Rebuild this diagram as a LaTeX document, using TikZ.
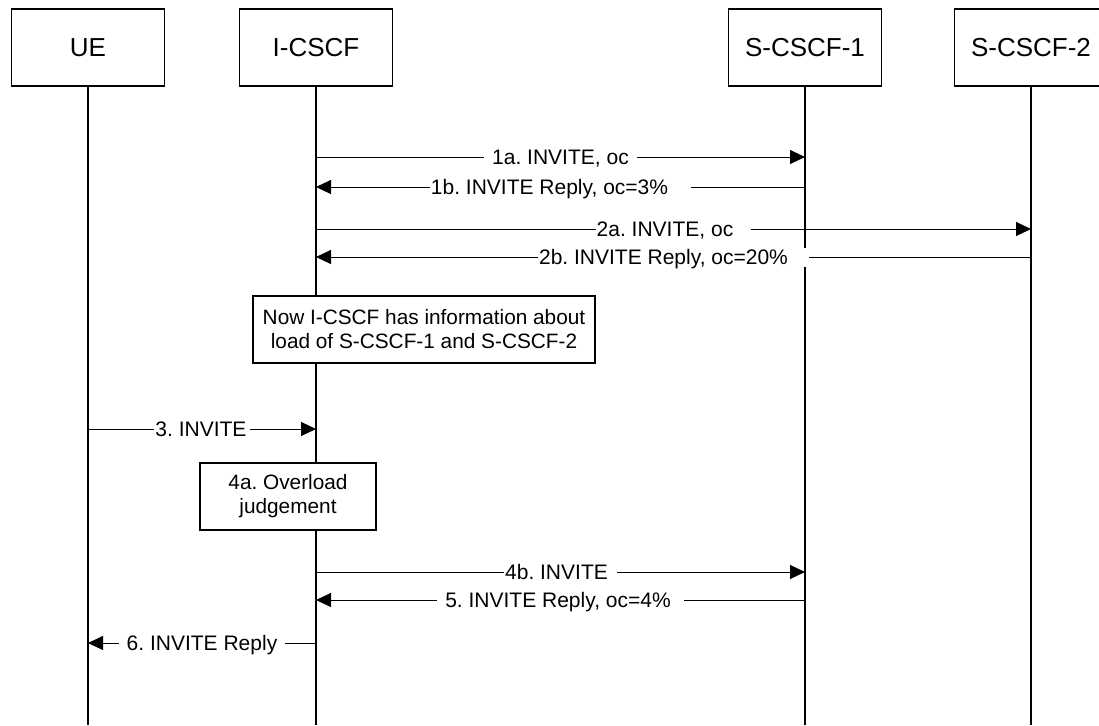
\documentclass[tikz,border=0pt]{standalone}
\usepackage{fontspec}
\setmainfont{Liberation Sans}
\usetikzlibrary{arrows.meta}

\begin{document}
\frenchspacing
\begin{tikzpicture}[
  x=0.5pt, y=-0.5pt,
  >={Triangle[length=7.5pt, width=7pt]},
  actor/.style={
    rectangle, draw, line width=0.65pt,
    minimum width=76.5pt, minimum height=38.5pt,
    font=\fontsize{13pt}{15pt}\selectfont
  },
  life/.style={line width=0.75pt},
  msg/.style={->, line width=0.5pt},
  lbl/.style={
    fill=white, inner xsep=0.5pt, inner ysep=1pt,
    text height=7.5pt, text depth=0pt,
    font=\fontsize{10.5pt}{12pt}\selectfont
  },
  lblpad/.style={lbl, inner xsep=4pt},
  note/.style={
    rectangle, draw, fill=white, line width=0.65pt, align=center,
    minimum height=33.5pt, font=\fontsize{10.4pt}{12pt}\selectfont
  }
]

% Frame
\useasboundingbox (0,0) rectangle (1099,725);
\clip (0,0) rectangle (1099,725);

% Entities
\node[actor] (ue) at (88,47.5) {UE};
\node[actor] (icscf) at (316,47.5) {I-CSCF};
\node[actor] (scscf1) at (805,47.5) {S-CSCF-1};
\node[actor] (scscf2) at (1031,47.5) {S-CSCF-2};

\coordinate (bottom) at (0,725);

% Lifelines
\foreach \n in {ue, icscf, scscf1, scscf2}
  \draw[life] (\n.south) -- (\n.south |- bottom);

% Message rows
\coordinate (r1a) at (0,157);
\coordinate (r1b) at (0,187);
\coordinate (r2a) at (0,229);
\coordinate (r2b) at (0,257);
\coordinate (r3) at (0,429);
\coordinate (r4b) at (0,572);
\coordinate (r5) at (0,600);
\coordinate (r6) at (0,643);

% Messages
\draw[msg] (icscf |- r1a) -- (scscf1 |- r1a)
  node[lblpad, midway] {1a. INVITE, oc};
\draw[msg] (scscf1 |- r1b) -- (icscf |- r1b)
  node[lbl, midway] {1b. INVITE Reply, oc=3\%\kern11pt};
\draw[msg] (icscf |- r2a) -- (scscf2 |- r2a)
  node[lbl, midway] {2a. INVITE, oc\kern8.5pt};
\draw[msg] (scscf2 |- r2b) -- (icscf |- r2b)
  node[lbl, midway] {2b. INVITE Reply, oc=20\%\kern10pt};
\draw[msg] (ue |- r3) -- (icscf |- r3)
  node[lbl, midway] {3. INVITE\kern1pt};
\draw[msg] (icscf |- r4b) -- (scscf1 |- r4b)
  node[lbl, midway] {4b. INVITE\kern4pt};
\draw[msg] (scscf1 |- r5) -- (icscf |- r5)
  node[lblpad, midway] {5. INVITE Reply, oc=4\%\kern2.5pt};
\draw[msg] (icscf |- r6) -- (ue |- r6)
  node[lblpad, midway] {6. INVITE Reply};

% Notes
\node[note, minimum width=171pt] (info) at (424,329.5)
  {Now I-CSCF has information about\\load of S-CSCF-1 and S-CSCF-2};
\node[note, minimum width=88pt] (judge) at (288,496.5)
  {4a. Overload\\judgement};

\end{tikzpicture}
\end{document}
